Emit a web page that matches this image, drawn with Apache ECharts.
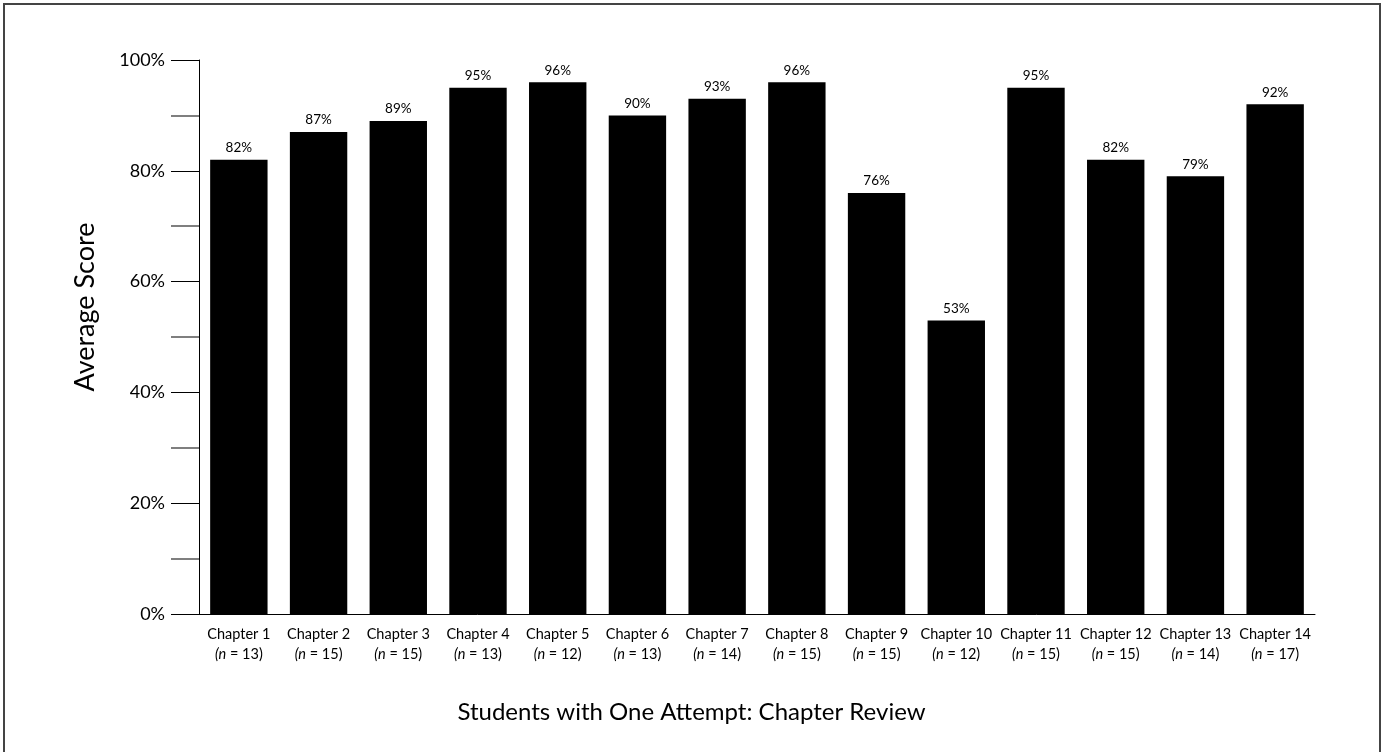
<!DOCTYPE html>
<html><head><meta charset="utf-8">
<script src="https://cdn.jsdelivr.net/npm/echarts@6/dist/echarts.min.js"></script>
<style>html,body{margin:0;padding:0;background:#fff}#c{width:1383px;height:752px}</style>
</head><body><div id="c"></div>
<script>
var chapters = ['Chapter 1','Chapter 2','Chapter 3','Chapter 4','Chapter 5','Chapter 6','Chapter 7','Chapter 8','Chapter 9','Chapter 10','Chapter 11','Chapter 12','Chapter 13','Chapter 14'];
var nValues = [13,15,15,13,12,13,14,15,15,12,15,15,14,17];
var scores = [82,87,89,95,96,90,93,96,76,53,95,82,79,92];
var yTicks = [0,20,40,60,80,100];

var FONT = 'Lato, "DejaVu Sans", sans-serif';
var cats = chapters.map(function(c,i){ return c + '\n{i|(n}{r| = ' + nValues[i] + ')}'; });
var chart = echarts.init(document.getElementById('c'));
chart.setOption({
  animation:false,
  backgroundColor:'#fff',
  graphic:[{type:'rect',shape:{x:4,y:4,width:1376,height:760},style:{fill:'none',stroke:'#444',lineWidth:2},silent:true}],
  title:{text:'Students with One Attempt: Chapter Review',left:'center',top:695,
    textStyle:{fontFamily:FONT,fontSize:24,fontWeight:'normal',color:'#000'}},
  grid:{left:199,right:68,top:60,bottom:138},
  xAxis:{type:'category',data:cats,boundaryGap:true,
    axisLine:{lineStyle:{color:'#000',width:1}},
    axisTick:{inside:true,length:14,lineStyle:{color:'#000'}},
    axisLabel:{interval:0,margin:10,fontFamily:FONT,fontSize:14.5,color:'#000',lineHeight:20,align:'center',
      rich:{i:{fontStyle:'italic',fontFamily:FONT,fontSize:14.5,color:'#000'},r:{fontFamily:FONT,fontSize:14.5,color:'#000'}}}},
  yAxis:{type:'value',min:0,max:100,interval:20,
    name:'Average Score',nameLocation:'middle',nameGap:100,nameRotate:90,
    nameTextStyle:{fontFamily:FONT,fontSize:27,color:'#000',padding:[0,0,0,60]},
    axisLine:{show:true,lineStyle:{color:'#000'}},
    axisTick:{show:true,length:28,lineStyle:{color:'#000'}},
    minorTick:{show:true,splitNumber:2,length:28,lineStyle:{color:'#555',width:1.5}},
    splitLine:{show:false},
    axisLabel:{margin:34,fontFamily:FONT,fontSize:18,color:'#000',
      formatter:function(v){ return yTicks.indexOf(v)>=0 ? v+'%' : ''; }}},
  series:[{type:'bar',data:scores,barWidth:'72%',
    itemStyle:{color:'#000'},
    label:{show:true,position:'top',distance:5,formatter:'{c}%',fontFamily:FONT,fontSize:13.5,color:'#000'}}]
});
</script></body></html>
